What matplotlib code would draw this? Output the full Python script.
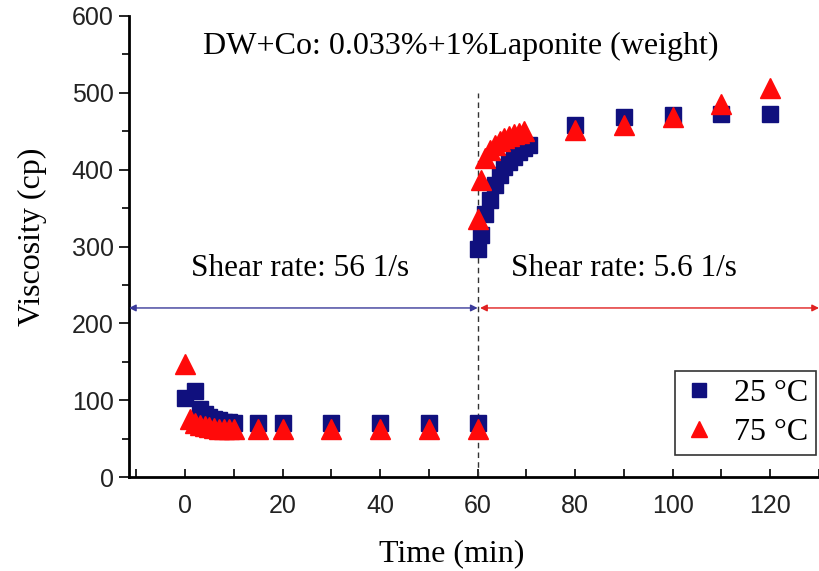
import matplotlib
matplotlib.use("Agg")
from matplotlib import pyplot as plt
from matplotlib.ticker import MultipleLocator

# 25 C series (blue squares)
t_25 = [0, 2, 3, 4, 5, 6, 7, 8, 9, 10, 15, 20, 30, 40, 50, 60,
        60, 60.7, 61.5, 62.5, 63.5, 64.5, 65.5, 66.5, 67.5, 68.5, 69.5, 70.5,
        80, 90, 100, 110, 120]
v_25 = [103, 112, 88, 82, 78, 76, 74, 72, 71, 70, 70, 70, 70, 70, 70, 70,
        297, 315, 342, 360, 380, 393, 403, 410, 417, 423, 428, 432,
        458, 468, 471, 472, 473]

# 75 C series (red triangles)
t_75 = [0, 1, 2, 3, 4, 5, 6, 7, 8, 9, 10, 15, 20, 30, 40, 50, 60,
        60, 60.7, 61.5, 62.5, 63.5, 64.5, 65.5, 66.5, 67.5, 68.5, 69.5,
        80, 90, 100, 110, 120]
v_75 = [147, 75, 70, 68, 66, 65, 64, 63, 63, 62, 62, 62, 62, 62, 62, 62, 62,
        336, 386, 415, 425, 432, 437, 441, 444, 446, 448, 450,
        452, 458, 469, 485, 506]

serif = "Liberation Serif"
sans = "Liberation Sans"

fig = plt.figure(figsize=(8.19, 5.71), dpi=100)
ax = fig.add_axes([0.1575, 0.1646, 0.8425, 0.8074])

ax.plot(t_25, v_25, linestyle="none", marker="s", markersize=12,
        color="#10107e", label="25 \u00b0C", zorder=3)
ax.plot(t_75, v_75, linestyle="none", marker="^", markersize=14,
        color="#ff0a0a", label="75 \u00b0C", zorder=4)

# dashed switch line
ax.plot([60, 60], [0, 500], linestyle=(0, (4, 3)), color="#333333", lw=1, zorder=2)

# shear rate arrows
ax.annotate("", xy=(-11.5, 220), xytext=(60, 220),
            arrowprops=dict(arrowstyle="<|-|>", color="#3a3a9a", lw=1,
                            mutation_scale=10, shrinkA=0, shrinkB=0))
ax.annotate("", xy=(60.5, 220), xytext=(130, 220),
            arrowprops=dict(arrowstyle="<|-|>", color="#e02020", lw=1,
                            mutation_scale=10, shrinkA=0, shrinkB=0))

ax.text(23.5, 272, "Shear rate: 56 1/s", ha="center", va="center",
        family=serif, fontsize=22.5)
ax.text(90, 272, "Shear rate: 5.6 1/s", ha="center", va="center",
        family=serif, fontsize=22.5)
ax.text(56.6, 560, "DW+Co: 0.033%+1%Laponite (weight)", ha="center", va="center",
        family=serif, fontsize=23)

ax.set_xlim(-11.5, 130)
ax.set_ylim(0, 600)
ax.xaxis.set_major_locator(MultipleLocator(20))
ax.xaxis.set_minor_locator(MultipleLocator(10))
ax.yaxis.set_major_locator(MultipleLocator(100))
ax.yaxis.set_minor_locator(MultipleLocator(50))
ax.tick_params(axis="x", which="both", direction="in", length=6, width=1.2,
               labelsize=18, pad=12)
ax.tick_params(axis="y", which="major", direction="out", length=7, width=1.2,
               labelsize=18, pad=4)
ax.tick_params(axis="y", which="minor", direction="out", length=5, width=1.2)
for lab in ax.get_xticklabels() + ax.get_yticklabels():
    lab.set_family(sans)
    lab.set_color("#222222")

for s in ["top", "right"]:
    ax.spines[s].set_visible(False)
for s in ["left", "bottom"]:
    ax.spines[s].set_linewidth(2)

ax.set_xlabel("Time (min)", family=serif, fontsize=23)
ax.set_ylabel("Viscosity (cp)", family=serif, fontsize=23)
ax.xaxis.set_label_coords(0.468, -0.135)
ax.yaxis.set_label_coords(-0.119, 0.52)

leg = ax.legend(loc="lower right", bbox_to_anchor=(0.996, 0.048),
                prop={"family": serif, "size": 23}, frameon=True, fancybox=False,
                edgecolor="black", handlelength=1.0, handletextpad=0.6,
                borderpad=0.25, labelspacing=0.3, markerscale=0.85,
                borderaxespad=0)
leg.get_frame().set_linewidth(1.2)

fig.savefig("out.png", dpi=100)
